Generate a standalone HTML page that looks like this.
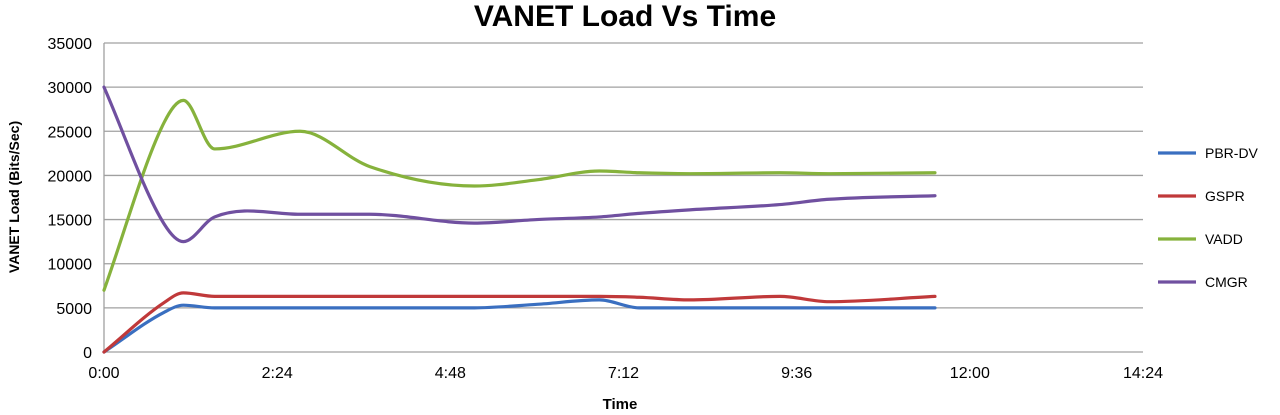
<!DOCTYPE html>
<html><head><meta charset="utf-8"><style>
body{margin:0;background:#fff;font-family:"Liberation Sans",sans-serif;}
svg text{font-family:"Liberation Sans",sans-serif;}
</style></head><body>
<svg width="1280" height="410">
<text x="625" y="26" text-anchor="middle" font-size="30" font-weight="bold">VANET Load Vs Time</text>
<g id="grid"></g><g id="series"></g>
<text transform="translate(19,197) rotate(-90)" text-anchor="middle" font-size="14" font-weight="bold">VANET Load (Bits/Sec)</text>
<text x="620" y="409" text-anchor="middle" font-size="15" font-weight="bold">Time</text>
<g id="legend"></g>
</svg>
<script>
const times=[0,50,66,92,163,221,308,360,412,445,487,562,603,691];
const seriesNames=["PBR-DV","GSPR","VADD","CMGR"];
const pbrdv=[0,4500,5300,5000,5000,5000,5000,5400,5900,5000,5000,5000,5000,5000];
const gspr=[0,5600,6700,6300,6300,6300,6300,6300,6300,6200,5900,6300,5700,6300];
const vadd=[7000,26000,28500,23000,25000,21000,18800,19500,20500,20300,20200,20300,20200,20300];
const cmgr=[30000,14500,12500,15300,15600,15600,14600,15000,15300,15700,16100,16700,17300,17700];
const yTicks=[0,5000,10000,15000,20000,25000,30000,35000];
const xTicks=[0,144,288,432,576,720,864];
const xTickLabels=["0:00","2:24","4:48","7:12","9:36","12:00","14:24"];
const colors=["#3a6fc0","#c0393a","#86b23c","#7050a0"];
const NS="http://www.w3.org/2000/svg";
const X0=104,X1=1143,Y0=352,Y1=43;
const xs=t=>X0+(X1-X0)*t/864, ys=v=>Y0-(Y0-Y1)*v/35000;
function mk(tag,at,parent){const e=document.createElementNS(NS,tag);for(const k in at)e.setAttribute(k,at[k]);parent.appendChild(e);return e;}
const grid=document.getElementById('grid');
yTicks.forEach(v=>{
 const l=mk('line',{x1:X0,x2:X1,y1:ys(v),y2:ys(v),stroke:'#a0a0a0','stroke-width':1.3},grid);
 
 
 const t=mk('text',{x:X0-12,y:ys(v)+6,'text-anchor':'end','font-size':16},grid);t.textContent=v;
 
 
});
const ax=mk('line',{x1:X0,x2:X0,y1:Y1,y2:Y0,stroke:'#a0a0a0','stroke-width':1.3},grid);


xTicks.forEach((t,i)=>{
 const e=mk('text',{x:xs(t),y:Y0+26,'text-anchor':'middle','font-size':16},grid);e.textContent=xTickLabels[i];
 
 
});
function smooth(p){
 const n=p.length,d=[],m=[];
 for(let i=0;i<n-1;i++)d.push((p[i+1][1]-p[i][1])/(p[i+1][0]-p[i][0]));
 for(let i=0;i<n;i++){
  if(i===0)m.push(d[0]);else if(i===n-1)m.push(d[n-2]);
  else m.push(d[i-1]*d[i]<=0?0:(d[i-1]+d[i])/2);
 }
 let s=`M${p[0][0]},${p[0][1]}`;
 for(let i=0;i<n-1;i++){const h=(p[i+1][0]-p[i][0])/3;
  s+=`C${p[i][0]+h},${p[i][1]+m[i]*h} ${p[i+1][0]-h},${p[i+1][1]-m[i+1]*h} ${p[i+1][0]},${p[i+1][1]}`;}
 return s;}
const sg=document.getElementById('series');
[pbrdv,gspr,vadd,cmgr].forEach((s,i)=>{
 const p=mk('path',{d:smooth(s.map((v,j)=>[xs(times[j]),ys(v)])),fill:'none',stroke:colors[i],'stroke-width':3.2,'stroke-linecap':'round'},sg);
 
 
});
const lg=document.getElementById('legend');
seriesNames.forEach((n,i)=>{
 const y=153+i*43;
 const g=mk('g',{},lg);
 
 
 mk('line',{x1:1158,x2:1196,y1:y,y2:y,stroke:colors[i],'stroke-width':3.2},g);
 const t=mk('text',{x:1205,y:y+5,'font-size':14},g);t.textContent=n;
});
</script>
</body></html>
